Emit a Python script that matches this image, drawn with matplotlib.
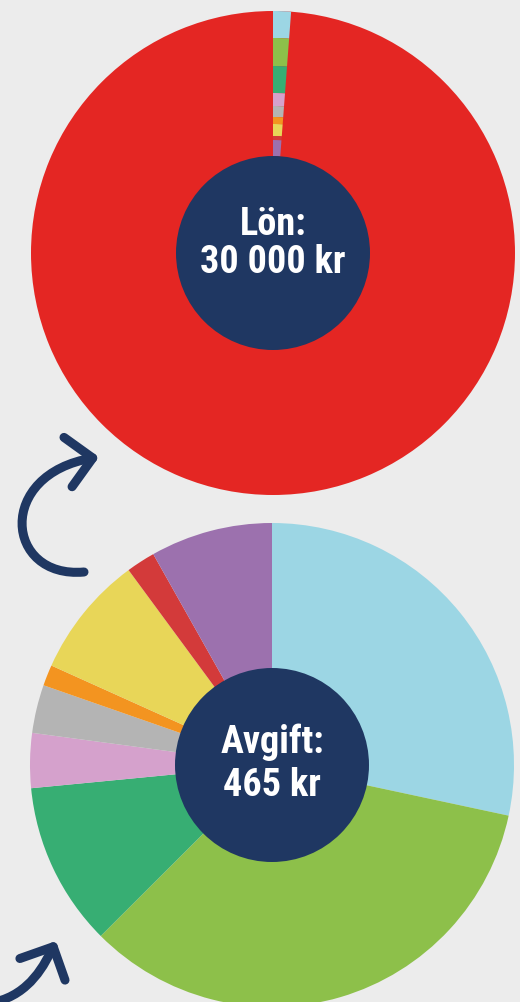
import matplotlib.pyplot as plt
from matplotlib.patches import Wedge, Circle, FancyArrowPatch
from matplotlib.path import Path

# data
lon = 30000
avgift = 465
delar = ["ljusblå", "grön", "turkos", "rosa", "grå", "orange", "gul", "röd", "lila"]
avgift_kr = [132, 159, 51, 17, 15, 6.5, 38, 9, 38]
# radial thickness of each band in the small wedge of the top chart
lon_band = [27, 28, 27, 13, 11, 7, 12, 4, 16]
farger = ["#9cd6e4", "#8dc04a", "#37ae73", "#d5a1cc", "#b4b4b4", "#f39420", "#e8d658", "#d33a3a", "#9c71ae"]
lon_rader = ["Lön:", "30 000 kr"]
avgift_rader = ["Avgift:", "465 kr"]

bg = "#ececec"
navy = "#1f3762"
rod = "#e42623"
font = ["Roboto Condensed", "Roboto", "DejaVu Sans"]

W, H = 520, 1003
fig = plt.figure(figsize=(W / 100, H / 100), dpi=100, facecolor=bg)
ax = fig.add_axes([0, 0, 1, 1])


def ypx(y):
    return H - y


R = 242
r_in = 97
top_c = (273, ypx(254))
bot_c = (272, ypx(766))

# top chart: the whole salary, fee shown as a thin wedge at 12 o'clock
ax.pie([lon], colors=[rod], radius=R, center=top_c, frame=True,
       wedgeprops=dict(linewidth=0))
wedge_deg = 360 * avgift / lon * 0.77  # the wedge is drawn a bit narrower in the original
r = R
tot = sum(lon_band)
for b, col in zip(lon_band, farger):
    h = b / tot * (R - r_in)
    ax.add_patch(Wedge(top_c, r, 90 - wedge_deg, 90, width=h, color=col, lw=0))
    r -= h
ax.add_patch(Circle(top_c, r_in, color=navy, lw=0, zorder=5))
ax.text(top_c[0], top_c[1] + 19, lon_rader[0], ha="center", va="baseline", color="white",
        fontsize=27.5, fontweight="bold", family=font, zorder=6)
ax.text(top_c[0], top_c[1] - 19, lon_rader[1], ha="center", va="baseline", color="white",
        fontsize=27.5, fontweight="bold", family=font, zorder=6)

# bottom chart: how the fee is split
ax.pie(avgift_kr, colors=farger, startangle=90, counterclock=False, radius=R,
       center=bot_c, frame=True, wedgeprops=dict(linewidth=0))
ax.add_patch(Circle(bot_c, r_in, color=navy, lw=0, zorder=5))
ax.text(bot_c[0], bot_c[1] + 13, avgift_rader[0], ha="center", va="baseline", color="white",
        fontsize=27.5, fontweight="bold", family=font, zorder=6)
ax.text(bot_c[0], bot_c[1] - 30, avgift_rader[1], ha="center", va="baseline", color="white",
        fontsize=27.5, fontweight="bold", family=font, zorder=6)

ax.set_xlim(0, W)
ax.set_ylim(0, H)
ax.set_aspect("equal")
ax.axis("off")

# arrows
p1 = Path([(84, ypx(573)), (5, ypx(580)), (-5, ypx(475)), (99, ypx(458))],
          [Path.MOVETO, Path.CURVE4, Path.CURVE4, Path.CURVE4])
a1 = FancyArrowPatch(path=p1, arrowstyle="->,head_length=0.9,head_width=0.9",
                     mutation_scale=20, lw=6.5, color=navy, capstyle="round",
                     joinstyle="round", zorder=7)
ax.add_patch(a1)
p2 = Path([(-5, ypx(1003)), (30, ypx(995)), (45, ypx(965)), (56, ypx(942))],
          [Path.MOVETO, Path.CURVE4, Path.CURVE4, Path.CURVE4])
a2 = FancyArrowPatch(path=p2, arrowstyle="->,head_length=0.9,head_width=0.9",
                     mutation_scale=20, lw=6.5, color=navy, capstyle="round",
                     joinstyle="round", zorder=7)
ax.add_patch(a2)

fig.savefig("out.png", dpi=100, facecolor=bg)
